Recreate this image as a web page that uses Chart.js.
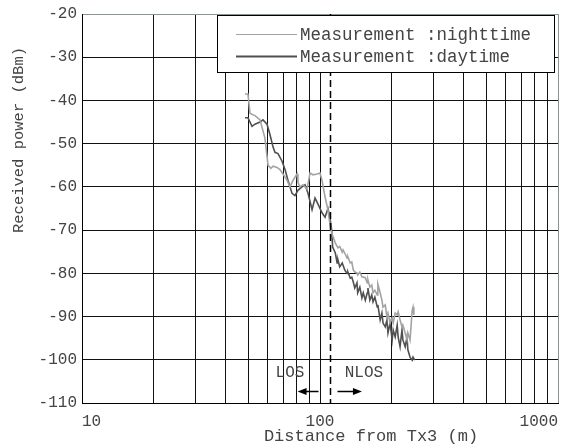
<!DOCTYPE html>
<html>
<head>
<meta charset="utf-8">
<script src="https://cdn.jsdelivr.net/npm/chart.js@4/dist/chart.umd.min.js"></script>
<style>
  body { margin: 0; background: #fff; }
  #wrap { width: 573px; height: 445px; }
</style>
</head>
<body>
<div id="wrap"><canvas id="rxPower" width="573" height="445"></canvas></div>
<script>
// distance (m) and received power (dBm)
const distNight = [48.4, 49.8, 50.8, 53.3, 56.0, 58.7, 60.5, 62.2, 63.5, 66.0, 67.9, 69.9, 72.7, 74.8, 77.0, 80.1, 80.8, 82.4, 84.8, 88.2,
  90.8, 93.5, 97.1, 100, 102, 105, 108, 110, 112, 116, 119, 121, 124, 125, 127, 130, 131, 134, 136, 138,
  140, 143, 144, 147, 150, 155, 158, 159, 162, 165, 167, 170, 174, 175, 179, 182, 184, 188, 191, 193,
  197, 201, 203, 207, 211, 213, 217, 221, 223, 228, 232, 234, 239, 244, 246, 248];
const powerNight = [-38.5, -38.5, -43, -43.5, -44.5, -48.7, -55, -55.7, -55.2, -55.5, -56, -57, -58.5, -60, -58.5, -57, -59, -60, -59.5, -60.5,
  -56.8, -57.2, -57, -56.8, -58.5, -62.3, -65.3, -68.5, -70.7, -73, -74.1, -73.8, -75.1, -74.6, -75.3, -76.5, -76.2, -77.6, -77.4, -79.2,
  -79.7, -79.9, -80.4, -79.7, -80.8, -81, -82.2, -81.5, -83.2, -82.7, -84.5, -83.9, -85, -82.5, -84.5, -86.2, -87.8, -87.3, -90.1, -89.2,
  -91.5, -90.3, -91.5, -89.2, -89.6, -88.9, -90.8, -92.4, -92, -93.8, -95.4, -93.8, -95.4, -88.5, -87.8, -89.6];

const distDay = [48.4, 49.8, 51.8, 53.3, 56.0, 57.6, 59.9, 61.7, 63.5, 64.7, 66.6, 69.2, 71.3, 73.4, 76.3, 78.5, 80.8, 84.0, 86.5, 89.0,
  92.6, 95.3, 98.1, 102, 105, 108, 110, 112, 113, 116, 118, 119, 121, 124, 127, 130, 131, 134, 136, 138,
  140, 143, 144, 147, 150, 152, 155, 158, 159, 162, 165, 167, 170, 174, 175, 179, 182, 184, 188, 191,
  193, 197, 201, 203, 207, 211, 213, 217, 221, 223, 228, 232, 234, 239, 244, 246, 250];
const powerDay = [-44, -44, -46, -45.5, -45, -44.5, -45.5, -48, -50.8, -52, -52.3, -54, -56, -58.5, -61.5, -62, -60.8, -60, -59.5, -61.4,
  -65.3, -62.6, -64, -66, -67, -65, -67, -70, -73.9, -75.3, -77.6, -76.9, -78.5, -77.6, -79.2, -80, -79.7, -81.1, -80.9, -82,
  -83.4, -82.2, -84.5, -83.2, -85.7, -84.5, -86.2, -84.5, -83.4, -86.2, -85, -86.6, -85.5, -87.8, -87.3, -90.8, -89.2, -91.5, -92.4, -90.8,
  -93.8, -91.5, -95.4, -93.1, -94.7, -92, -94.7, -97, -93.1, -95.4, -97, -94.7, -97.7, -99.4, -100.1, -99.4, -100.1];

const xTicks = [10, 20, 30, 40, 50, 60, 70, 80, 90, 100, 200, 300, 400, 500, 600, 700, 800, 900, 1000];
const xLabels = [10, 100, 1000];
const yTicks = [-110, -100, -90, -80, -70, -60, -50, -40, -30, -20];
const losBoundary = 110;
const seriesNames = ["Measurement :nighttime", "Measurement :daytime"];
const seriesColors = ["#a3a3a3", "#505050"];

const toPoints = (xs, ys) => xs.map((x, i) => ({ x: x, y: ys[i] }));

const extras = {
  id: "extras",
  afterDatasetsDraw(chart) {
    const { ctx, chartArea, scales } = chart;
    const xs = scales.x, ys = scales.y;
    const bx = Math.round(xs.getPixelForValue(losBoundary)) + 0.5;
    ctx.save();
    // LOS / NLOS boundary
    ctx.strokeStyle = "#000";
    ctx.lineWidth = 1.5;
    ctx.setLineDash([7, 4]);
    ctx.beginPath();
    ctx.moveTo(bx, chartArea.top);
    ctx.lineTo(bx, chartArea.bottom);
    ctx.stroke();
    ctx.setLineDash([]);

    // labels + arrows
    ctx.fillStyle = "#444";
    ctx.font = "16px 'Liberation Mono', monospace";
    ctx.textAlign = "center";
    ctx.textBaseline = "middle";
    const ty = ys.getPixelForValue(-103.1);
    ctx.fillText("LOS", xs.getPixelForValue(74.8), ty);
    ctx.fillText("NLOS", xs.getPixelForValue(153), ty);

    const ay = Math.round(ys.getPixelForValue(-107.2)) + 0.5;
    const arrow = (x0, x1) => {
      const dir = Math.sign(x1 - x0);
      ctx.strokeStyle = "#000";
      ctx.fillStyle = "#000";
      ctx.lineWidth = 1.5;
      ctx.beginPath();
      ctx.moveTo(x0, ay);
      ctx.lineTo(x1 - dir * 6, ay);
      ctx.stroke();
      ctx.beginPath();
      ctx.moveTo(x1, ay);
      ctx.lineTo(x1 - dir * 9, ay - 3.5);
      ctx.lineTo(x1 - dir * 9, ay + 3.5);
      ctx.closePath();
      ctx.fill();
    };
    arrow(bx - 12, xs.getPixelForValue(80.5));
    arrow(bx + 7, xs.getPixelForValue(150));

    // legend box
    ctx.fillStyle = "#fff";
    ctx.fillRect(217, 15, 337, 57);
    ctx.strokeStyle = "#000";
    ctx.lineWidth = 1;
    ctx.strokeRect(217.5, 15.5, 337, 57);
    ctx.font = "17.5px 'Liberation Mono', monospace";
    ctx.textAlign = "left";
    [34, 56].forEach((y, i) => {
      ctx.strokeStyle = seriesColors[i];
      ctx.lineWidth = i === 0 ? 1.2 : 1.8;
      ctx.beginPath();
      ctx.moveTo(236, y + 0.5);
      ctx.lineTo(297, y + 0.5);
      ctx.stroke();
      ctx.fillStyle = "#444";
      ctx.fillText(seriesNames[i], 300, y + 1);
    });

    // axis titles
    ctx.font = "17px 'Liberation Mono', monospace";
    ctx.textAlign = "center";
    ctx.fillText("Distance from Tx3 (m)", 371, 436);
    ctx.translate(19, 140);
    ctx.rotate(-Math.PI / 2);
    ctx.font = "15.5px 'Liberation Mono', monospace";
    ctx.fillText("Received power (dBm)", 0, 0);
    ctx.restore();
  },
};

function drawChart() {
  const canvas = document.getElementById("rxPower");
  const data = {
    datasets: [
      {
        label: seriesNames[0],
        data: toPoints(distNight, powerNight),
        borderColor: seriesColors[0],
        borderWidth: 1.6,
      },
      {
        label: seriesNames[1],
        data: toPoints(distDay, powerDay),
        borderColor: seriesColors[1],
        borderWidth: 1.6,
      },
    ],
  };
  const config = {
    type: "line",
    data: data,
    options: {
      responsive: false,
      animation: false,
      layout: { padding: { top: 14, right: 15, left: 0, bottom: 0 } },
      elements: { point: { radius: 0 }, line: { tension: 0 } },
      plugins: { legend: { display: false }, tooltip: { enabled: false } },
      scales: {
        x: {
          type: "logarithmic",
          min: 10,
          max: 1000,
          afterBuildTicks: (s) => { s.ticks = xTicks.map((v) => ({ value: v })); },
          afterFit: (s) => { s.height = 42; s.paddingLeft = 0; s.paddingRight = 0; },
          grid: {
            drawTicks: false,
            color: (c) => (c.tick && c.tick.value === 1000 ? "#8a9696" : "#111"),
          },
          border: { color: "#000", width: 1 },
          ticks: {
            autoSkip: false,
            maxRotation: 0,
            align: "inner",
            padding: 9,
            color: "#444",
            font: { family: "'Liberation Mono', monospace", size: 16 },
            callback: (v) => (xLabels.includes(v) ? String(v) : ""),
          },
        },
        y: {
          type: "linear",
          min: -110,
          max: -20,
          afterBuildTicks: (s) => { s.ticks = yTicks.map((v) => ({ value: v })); },
          afterFit: (s) => { s.width = 82; s.paddingTop = 0; s.paddingBottom = 0; },
          grid: {
            drawTicks: false,
            color: (c) => (c.tick && c.tick.value === -20 ? "#8a9696" : "#111"),
          },
          border: { color: "#000", width: 1 },
          ticks: {
            padding: 5,
            color: "#444",
            font: { family: "'Liberation Mono', monospace", size: 16 },
          },
        },
      },
    },
    plugins: [extras],
  };
  return new Chart(canvas, config);
}

drawChart();
</script>
</body>
</html>
